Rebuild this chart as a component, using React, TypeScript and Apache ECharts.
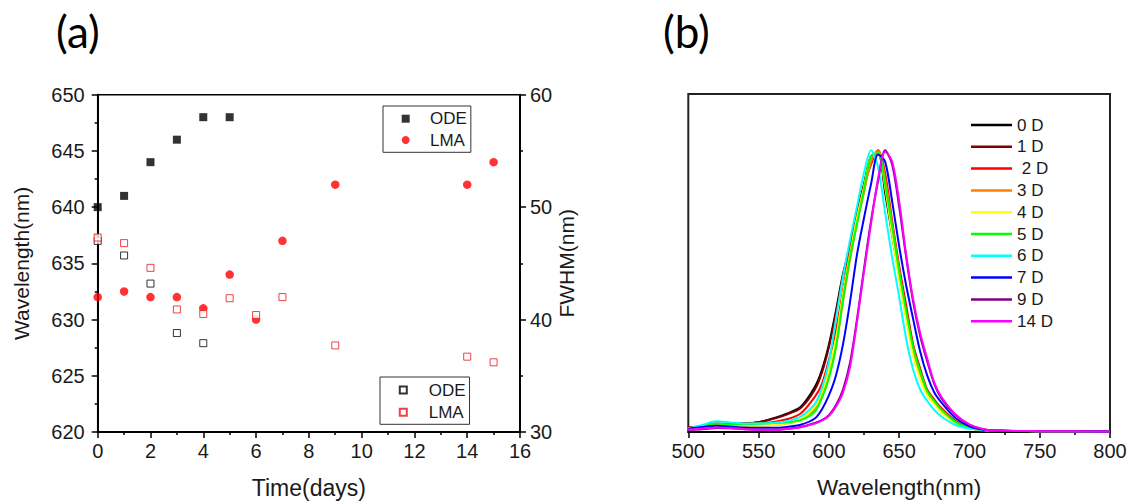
import React, { useEffect, useRef } from 'react';
import * as echarts from 'echarts';

// ---------- Panel (a) data ----------
const odeDays = [0, 1, 2, 3, 4, 5];
const odeWavelength = [640, 641, 644, 646, 648, 648];
const lmaDays = [0, 1, 2, 3, 4, 5, 6, 7, 9, 14, 15];
const lmaWavelength = [632, 632.5, 632, 632, 631, 634, 630, 637, 642, 642, 644];
const odeFwhmDays = [0, 1, 2, 3, 4];
const odeFwhm = [47.0, 45.7, 43.2, 38.8, 37.9];
const lmaFwhm = [47.3, 46.8, 44.6, 40.9, 40.5, 41.9, 40.4, 42.0, 37.7, 36.7, 36.2];

// ---------- Panel (b) data ----------
const wavelengths = [500, 510, 520, 530, 540, 550, 560, 570, 580, 590, 595, 600, 605, 610, 615, 620, 625, 630, 635, 640, 645, 650, 655, 660, 665, 670, 675, 680, 690, 700, 710, 720, 750, 800];
const spec0D = [0.015, 0.02, 0.025, 0.027, 0.03, 0.035, 0.048, 0.065, 0.09, 0.16, 0.22, 0.31, 0.43, 0.56, 0.66, 0.78, 0.88, 0.98, 0.99, 0.85, 0.70, 0.555, 0.41, 0.29, 0.205, 0.14, 0.105, 0.075, 0.035, 0.013, 0.007, 0.004, 0.003, 0.002];
const spec1D = [0.015, 0.02, 0.026, 0.028, 0.03, 0.035, 0.046, 0.062, 0.085, 0.15, 0.21, 0.30, 0.42, 0.55, 0.65, 0.77, 0.87, 0.96, 1.0, 0.87, 0.72, 0.565, 0.42, 0.295, 0.21, 0.145, 0.108, 0.078, 0.036, 0.014, 0.007, 0.004, 0.003, 0.002];
const spec2D = [0.015, 0.022, 0.03, 0.028, 0.03, 0.032, 0.035, 0.045, 0.066, 0.125, 0.17, 0.255, 0.36, 0.50, 0.64, 0.76, 0.87, 0.95, 1.0, 0.92, 0.75, 0.59, 0.45, 0.31, 0.225, 0.15, 0.115, 0.085, 0.04, 0.015, 0.007, 0.004, 0.003, 0.002];
const spec3D = [0.013, 0.02, 0.028, 0.025, 0.024, 0.024, 0.025, 0.03, 0.045, 0.08, 0.125, 0.20, 0.30, 0.46, 0.61, 0.74, 0.85, 0.96, 1.0, 0.90, 0.74, 0.575, 0.42, 0.29, 0.21, 0.14, 0.105, 0.075, 0.035, 0.014, 0.007, 0.004, 0.003, 0.002];
const spec4D = [0.012, 0.016, 0.022, 0.02, 0.02, 0.022, 0.025, 0.03, 0.045, 0.09, 0.14, 0.22, 0.33, 0.49, 0.63, 0.76, 0.87, 0.98, 0.99, 0.87, 0.70, 0.543, 0.40, 0.27, 0.19, 0.13, 0.10, 0.07, 0.032, 0.012, 0.006, 0.004, 0.003, 0.002];
const spec5D = [0.013, 0.02, 0.03, 0.026, 0.028, 0.03, 0.032, 0.035, 0.042, 0.072, 0.12, 0.19, 0.30, 0.47, 0.62, 0.74, 0.86, 0.98, 0.99, 0.88, 0.73, 0.57, 0.43, 0.30, 0.215, 0.145, 0.11, 0.08, 0.036, 0.014, 0.007, 0.004, 0.003, 0.002];
const spec6D = [0.012, 0.025, 0.038, 0.034, 0.03, 0.03, 0.032, 0.038, 0.055, 0.10, 0.156, 0.247, 0.40, 0.55, 0.68, 0.80, 0.92, 1.0, 0.94, 0.78, 0.62, 0.48, 0.33, 0.22, 0.15, 0.11, 0.078, 0.055, 0.025, 0.012, 0.007, 0.004, 0.003, 0.002];
const spec7D = [0.012, 0.018, 0.022, 0.019, 0.016, 0.015, 0.015, 0.018, 0.026, 0.048, 0.08, 0.13, 0.20, 0.31, 0.46, 0.63, 0.76, 0.88, 0.985, 0.96, 0.82, 0.66, 0.52, 0.40, 0.285, 0.20, 0.14, 0.105, 0.05, 0.02, 0.008, 0.004, 0.003, 0.002];
const spec9D = [0.008, 0.01, 0.014, 0.013, 0.01, 0.008, 0.008, 0.011, 0.018, 0.032, 0.042, 0.06, 0.095, 0.15, 0.245, 0.40, 0.58, 0.75, 0.89, 1.0, 0.95, 0.80, 0.62, 0.46, 0.34, 0.25, 0.17, 0.12, 0.06, 0.025, 0.01, 0.005, 0.003, 0.002];
const spec14D = [0.008, 0.012, 0.016, 0.014, 0.01, 0.008, 0.008, 0.011, 0.017, 0.03, 0.04, 0.057, 0.09, 0.14, 0.23, 0.39, 0.57, 0.74, 0.90, 0.995, 0.96, 0.82, 0.63, 0.47, 0.35, 0.26, 0.175, 0.125, 0.063, 0.027, 0.01, 0.005, 0.003, 0.002];

const spectraNames = ['0 D', '1 D', ' 2 D', '3 D', '4 D', '5 D', '6 D', '7 D', '9 D', '14 D'];
const spectraColors = ['#000000', '#800000', '#ff0000', '#ff8000', '#ffff00', '#00ff00', '#00ffff', '#0000ff', '#800080', '#ff00ff'];
const spectra = [spec0D, spec1D, spec2D, spec3D, spec4D, spec5D, spec6D, spec7D, spec9D, spec14D];

const FONT = 'Liberation Sans';
const TXT = '#1a1a1a';

const zip = (xs: number[], ys: number[]) => xs.map((x, i) => [x, ys[i]]);

export default function App() {
  const ref = useRef<HTMLDivElement>(null);
  useEffect(() => {
    if (!ref.current) return;
    const chart = echarts.init(ref.current, undefined, { renderer: 'svg' });

    const axisCommon = {
      axisLine: { show: true, lineStyle: { color: '#000', width: 2 } },
      axisTick: { show: true, inside: false, length: 6, lineStyle: { color: '#000', width: 1.5 } },
      minorTick: { show: true, splitNumber: 2, length: 3, lineStyle: { color: '#000', width: 1.5 } },
      splitLine: { show: false },
      axisLabel: { fontSize: 20, fontFamily: FONT, color: TXT },
      nameTextStyle: { fontSize: 23, fontFamily: FONT, color: TXT },
    };

    const option: any = {
      animation: false,
      backgroundColor: '#fff',
      textStyle: { fontFamily: FONT },
      grid: [
        { left: 97.7, top: 94.7, width: 422.3, height: 339.3, show: true, borderColor: '#000', borderWidth: 1.5, containLabel: false },
        { left: 688.3, top: 94, width: 421.7, height: 339.3, show: true, borderColor: '#222', borderWidth: 2, containLabel: false },
      ],
      xAxis: [
        {
          ...axisCommon,
          gridIndex: 0, type: 'value', min: 0, max: 16, interval: 2,
          axisLabel: { ...axisCommon.axisLabel, margin: 9 },
          name: 'Time(days)', nameLocation: 'middle', nameGap: 44,
        },
        {
          ...axisCommon,
          gridIndex: 1, type: 'value', min: 500, max: 800, interval: 50,
          axisLabel: { ...axisCommon.axisLabel, margin: 9 },
          name: 'Wavelength(nm)', nameLocation: 'middle', nameGap: 44,
          nameTextStyle: { fontSize: 22.5, fontFamily: FONT, color: TXT },
        },
      ],
      yAxis: [
        {
          ...axisCommon,
          gridIndex: 0, type: 'value', min: 620, max: 650, interval: 5, position: 'left',
          axisLabel: { ...axisCommon.axisLabel, margin: 13 },
          name: 'Wavelength(nm)', nameLocation: 'middle', nameRotate: 90, nameGap: 66,
          nameTextStyle: { fontSize: 21, fontFamily: FONT, color: TXT },
        },
        {
          ...axisCommon,
          gridIndex: 0, type: 'value', min: 30, max: 60, interval: 10, position: 'right',
          axisLabel: { ...axisCommon.axisLabel, margin: 10 },
          name: 'FWHM(nm)', nameLocation: 'middle', nameRotate: 90, nameGap: 32,
          nameTextStyle: { fontSize: 21, fontFamily: FONT, color: TXT },
        },
        {
          gridIndex: 1, type: 'value', min: 0, max: 1.2, show: false, splitLine: { show: false },
        },
      ],
      legend: [
        {
          orient: 'vertical', left: 383, top: 106, padding: [2.7, 4, 2.3, 18.7],
          itemWidth: 8, itemHeight: 8, itemGap: 1.3, selectedMode: false,
          borderColor: '#333', borderWidth: 1,
          textStyle: { fontSize: 17, lineHeight: 20, fontFamily: FONT, color: TXT, padding: [0, 0, 0, 15.3] },
          data: ['ODE', 'LMA'],
          formatter: (n: string) => n.trim(),
        },
        {
          orient: 'vertical', left: 380, top: 377, padding: [3, 4, 2, 18.8],
          itemWidth: 7, itemHeight: 7, itemGap: 2.3, selectedMode: false,
          borderColor: '#333', borderWidth: 1,
          textStyle: { fontSize: 17, lineHeight: 20, fontFamily: FONT, color: TXT, padding: [0, 0, 0, 16.9] },
          data: ['ODE ', 'LMA '],
          formatter: (n: string) => n.trim(),
        },
        {
          orient: 'vertical', left: 971, top: 116, padding: 0,
          icon: 'rect', itemWidth: 41, itemHeight: 2.5, itemGap: 3.8, selectedMode: false,
          textStyle: { fontSize: 17, lineHeight: 18, fontFamily: FONT, color: TXT },
          data: spectraNames,
        },
      ],
      graphic: [
        { type: 'text', left: 56, top: 9, style: { text: '(a)', fontSize: 44, fontFamily: 'Lato', fill: '#000' } },
        { type: 'text', left: 663, top: 9, style: { text: '(b)', fontSize: 44, fontFamily: 'Lato', fill: '#000' } },
      ],
      series: [
        {
          name: 'ODE', type: 'scatter', xAxisIndex: 0, yAxisIndex: 0, clip: false,
          symbol: 'rect', symbolSize: 8, itemStyle: { color: '#000' },
          data: zip(odeDays, odeWavelength), z: 3,
        },
        {
          name: 'LMA', type: 'scatter', xAxisIndex: 0, yAxisIndex: 0, clip: false,
          symbol: 'circle', symbolSize: 8.5, itemStyle: { color: '#ff0000' },
          data: zip(lmaDays, lmaWavelength), z: 3,
        },
        {
          name: 'ODE ', type: 'scatter', xAxisIndex: 0, yAxisIndex: 1, clip: false,
          symbol: 'rect', symbolSize: 7, itemStyle: { color: '#fff', borderColor: '#000', borderWidth: 1 },
          data: zip(odeFwhmDays, odeFwhm), z: 4,
        },
        {
          name: 'LMA ', type: 'scatter', xAxisIndex: 0, yAxisIndex: 1, clip: false,
          symbol: 'rect', symbolSize: 7, itemStyle: { color: '#fff', borderColor: '#e8141c', borderWidth: 1 },
          data: zip(lmaDays, lmaFwhm), z: 5,
        },
        ...spectra.map((s, i) => ({
          name: spectraNames[i], type: 'line', xAxisIndex: 1, yAxisIndex: 2,
          symbol: 'none', showSymbol: false, smooth: 0.3,
          lineStyle: { color: spectraColors[i], width: 2 },
          itemStyle: { color: spectraColors[i] },
          data: zip(wavelengths, s),
        })),
      ],
    };
    chart.setOption(option);
    return () => chart.dispose();
  }, []);
  return <div ref={ref} style={{ position: 'fixed', left: 0, top: 0, width: 1131, height: 504, background: '#fff' }} />;
}
